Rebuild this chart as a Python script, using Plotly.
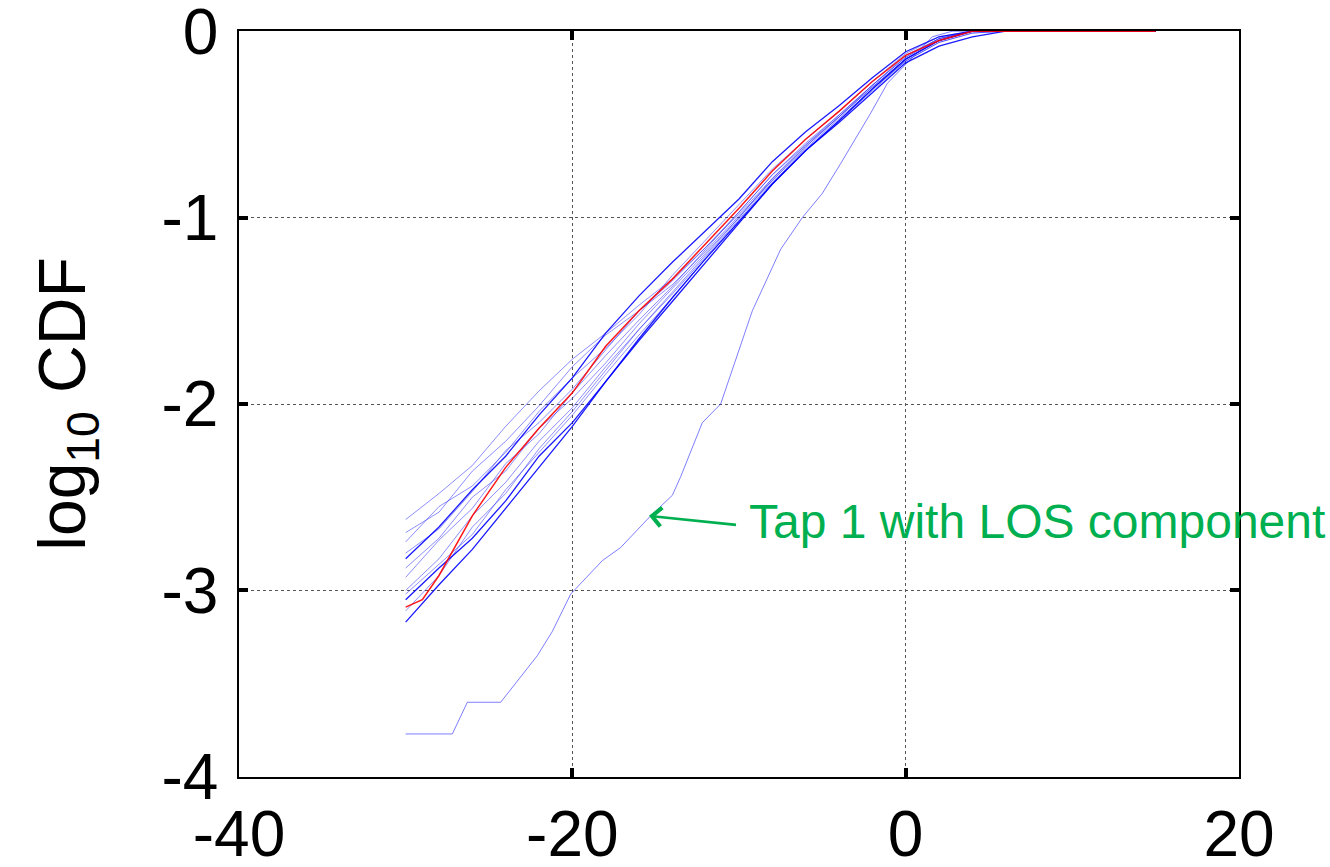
import plotly.graph_objects as go

# Common x grid (dB) for the bundle of taps
x_grid = [-30, -28, -26, -24, -22, -20, -18, -16, -14, -12, -10, -8, -6, -4, -2, 0, 2, 4, 6, 15]

# Light blue taps
blue_light = [
    [-2.62, -2.48, -2.33, -2.12, -1.93, -1.76, -1.62, -1.47, -1.33, -1.16, -0.98, -0.79, -0.61, -0.45, -0.29, -0.14, -0.04, 0, 0, 0],
    [-2.69, -2.58, -2.36, -2.20, -2.01, -1.80, -1.63, -1.50, -1.36, -1.18, -0.99, -0.80, -0.62, -0.46, -0.30, -0.15, -0.05, 0, 0, 0],
    [-2.74, -2.55, -2.44, -2.26, -2.04, -1.86, -1.70, -1.52, -1.31, -1.12, -0.93, -0.74, -0.58, -0.43, -0.27, -0.12, -0.03, 0, 0, 0],
    [-2.80, -2.67, -2.47, -2.25, -2.10, -1.92, -1.71, -1.50, -1.34, -1.16, -0.97, -0.77, -0.60, -0.45, -0.29, -0.13, -0.04, 0, 0, 0],
    [-2.88, -2.72, -2.50, -2.36, -2.13, -1.97, -1.78, -1.57, -1.38, -1.19, -1.00, -0.80, -0.63, -0.47, -0.31, -0.16, -0.06, -0.01, 0, 0],
    [-2.93, -2.73, -2.56, -2.32, -2.16, -1.94, -1.74, -1.55, -1.37, -1.17, -0.97, -0.77, -0.61, -0.46, -0.29, -0.14, -0.04, 0, 0, 0],
    [-3.00, -2.83, -2.60, -2.42, -2.20, -2.02, -1.80, -1.60, -1.41, -1.21, -1.01, -0.81, -0.64, -0.48, -0.31, -0.15, -0.05, 0, 0, 0],
    [-3.02, -2.86, -2.70, -2.46, -2.26, -2.06, -1.84, -1.63, -1.43, -1.22, -1.02, -0.82, -0.64, -0.48, -0.32, -0.16, -0.06, -0.01, 0, 0],
    [-3.11, -2.92, -2.66, -2.48, -2.24, -2.04, -1.82, -1.60, -1.40, -1.20, -1.00, -0.79, -0.62, -0.46, -0.30, -0.15, -0.05, 0, 0, 0],
]

# Darker blue taps
blue_dark = [
    [-2.83, -2.66, -2.46, -2.28, -2.06, -1.86, -1.62, -1.42, -1.24, -1.07, -0.90, -0.70, -0.54, -0.40, -0.25, -0.11, -0.03, 0, 0, 0],
    [-3.05, -2.88, -2.72, -2.52, -2.28, -2.10, -1.88, -1.65, -1.43, -1.22, -1.02, -0.82, -0.64, -0.49, -0.33, -0.17, -0.08, -0.03, 0, 0],
    [-3.17, -2.97, -2.78, -2.56, -2.34, -2.12, -1.88, -1.66, -1.45, -1.24, -1.03, -0.82, -0.64, -0.48, -0.31, -0.15, -0.05, 0, 0, 0],
]

# Red (reference) curve
red_x = [-30, -29, -28, -26, -24, -22, -20, -18, -16, -14, -12, -10, -8, -6, -4, -2, 0, 2, 4, 15]
red_y = [-3.09, -3.05, -2.92, -2.60, -2.34, -2.13, -1.94, -1.69, -1.50, -1.33, -1.14, -0.95, -0.75, -0.58, -0.43, -0.27, -0.13, -0.05, 0, 0]

# Tap 1 with LOS component
los_x = [-30, -27.2, -26.3, -24.3, -22.1, -21.2, -20.1, -18.2, -17.1, -15.3, -14.0, -13.5, -12.2, -11.1,
         -9.2, -7.5, -6.2, -5.0, -3.9, -2.1, -1.1, 0, 1.6, 2.8, 15]
los_y = [-3.77, -3.77, -3.60, -3.60, -3.35, -3.22, -3.02, -2.84, -2.77, -2.60, -2.49, -2.39, -2.10, -2.00,
         -1.50, -1.17, -1.00, -0.87, -0.71, -0.44, -0.28, -0.18, -0.03, 0, 0]

x_ticks = [-40, -20, 0, 20]
y_ticks = [-4, -3, -2, -1, 0]

fig = go.Figure()

fig.add_trace(go.Scatter(x=los_x, y=los_y, mode="lines",
                         line=dict(color="rgba(40,40,255,0.6)", width=1), showlegend=False))
for ys in blue_light:
    fig.add_trace(go.Scatter(x=x_grid, y=ys, mode="lines",
                             line=dict(color="rgba(30,30,255,0.5)", width=1), showlegend=False))
for ys in blue_dark:
    fig.add_trace(go.Scatter(x=x_grid, y=ys, mode="lines",
                             line=dict(color="rgba(0,0,255,0.9)", width=1.3), showlegend=False))
fig.add_trace(go.Scatter(x=red_x, y=red_y, mode="lines",
                         line=dict(color="rgba(255,0,0,0.9)", width=1.5), showlegend=False))

# Arrow
fig.add_annotation(x=-15.4, y=-2.60, ax=-10.0, ay=-2.65, xref="x", yref="y", axref="x", ayref="y",
                   text=" ", showarrow=True, arrowhead=4, arrowsize=1.4, arrowwidth=2.6,
                   arrowcolor="#00B050", standoff=0, startstandoff=0)
fig.add_annotation(x=-9.5, y=-2.63, xref="x", yref="y", text="Tap 1 with LOS component",
                   showarrow=False, xanchor="left", yanchor="middle",
                   font=dict(family="Liberation Sans, Arial", size=48, color="#00B050"))

axis_common = dict(
    showline=True, linecolor="black", linewidth=1.5, mirror="ticks",
    ticks="inside", ticklen=9, tickwidth=4, tickcolor="black",
    showgrid=True, gridcolor="#555555", gridwidth=1, griddash="dot",
    zeroline=False, automargin=False, ticklabeloverflow="allow",
    tickfont=dict(family="Liberation Sans, Arial", size=64, color="black"),
)

fig.update_xaxes(range=[-40, 20], tickvals=x_ticks, ticktext=[str(v) for v in x_ticks],
                 ticklabelstandoff=0, **axis_common)
fig.update_yaxes(range=[-4.001, 0.001], tickvals=y_ticks, ticktext=[str(v) for v in y_ticks],
                 ticklabelstandoff=6,
                 title=dict(text="log<sub>10</sub> CDF", standoff=54,
                            font=dict(family="Liberation Sans, Arial", size=66, color="black")),
                 **axis_common)

fig.update_layout(
    width=1330, height=867,
    margin=dict(l=239, r=91, t=31, b=90),
    paper_bgcolor="white", plot_bgcolor="white",
)

fig.write_html("out.html")
